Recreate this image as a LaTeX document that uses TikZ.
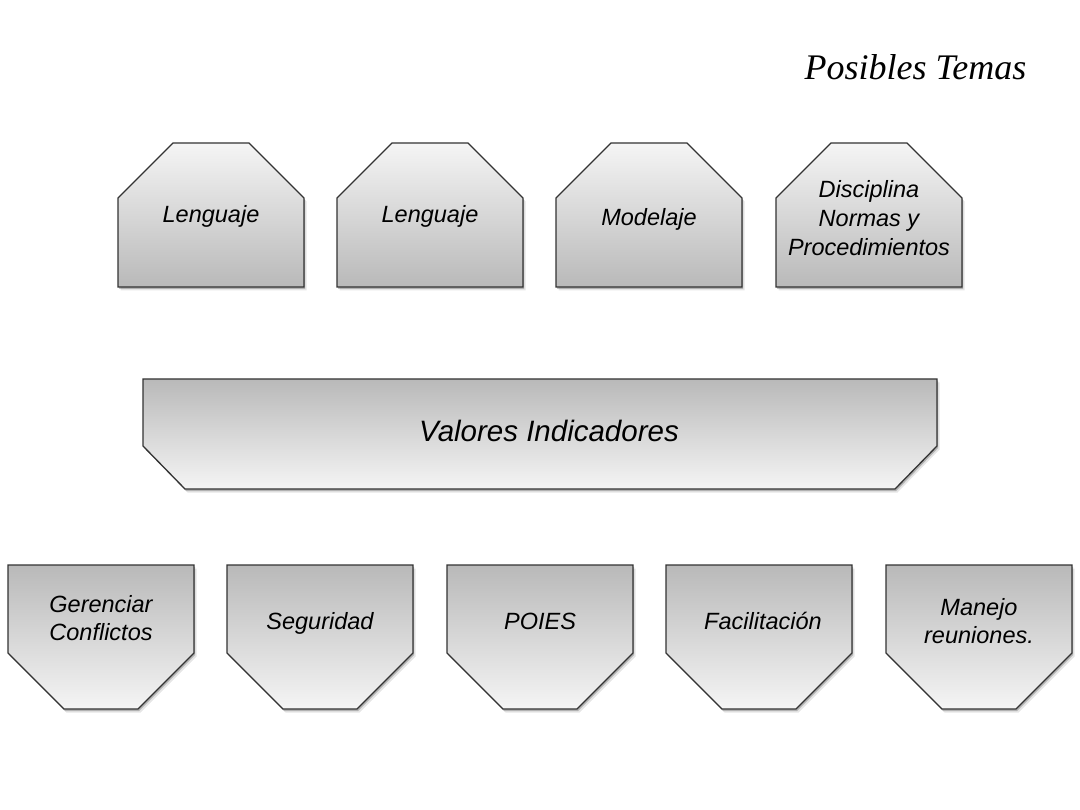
\documentclass[tikz,border=0pt]{standalone}
\usepackage{fontspec}
\setmainfont{Liberation Sans}
\newfontfamily\titlefont{Liberation Serif}
\usetikzlibrary{shadows}
\begin{document}
\begin{tikzpicture}[x=1pt,y=-1pt,
  boxline/.style={draw=black!80, line width=1.3pt, line join=miter},
  shadowed/.style={drop shadow={shadow xshift=2.5pt, shadow yshift=-3.5pt, opacity=0.1, fill=black},
                   drop shadow={shadow xshift=1.2pt, shadow yshift=-2pt, opacity=0.22, fill=black}},
  topbox/.style={boxline, shadowed, top color=gray!8, bottom color=gray!55},
  botbox/.style={boxline, shadowed, top color=gray!55, bottom color=gray!8},
  label/.style={font=\itshape\fontsize{23.5}{29}\selectfont, align=center, text=black, anchor=base},
  biglabel/.style={font=\itshape\fontsize{29.5}{34}\selectfont, align=center, text=black, anchor=base},
  titlelabel/.style={font=\titlefont\itshape\fontsize{36}{40}\selectfont, text=black, anchor=base}]
\useasboundingbox[fill=white] (0,0) rectangle (1080,810);

% title
\node[titlelabel] (title) at (915.5,80) {Posibles Temas};

% top row
\foreach \x in {118,337,556,776}{
  \path[topbox] (\x,198) -- (\x+55,143) -- (\x+131,143) -- (\x+186,198) -- (\x+186,287) -- (\x,287) -- cycle;
}
\node[label] (t1) at (211,223) {Lenguaje};
\node[label] (t2) at (430,223) {Lenguaje};
\node[label] (t3) at (649,226) {Modelaje};
\node[label] (t4a) at (869,198) {Disciplina};
\node[label] (t4b) at (869,227) {Normas y};
\node[label] (t4c) at (869,256) {Procedimientos};

% middle
\path[botbox] (143,379) -- (937,379) -- (937,446) -- (895,489) -- (185,489) -- (143,446) -- cycle;
\node[biglabel] (valores) at (549,442) {Valores Indicadores};

% bottom row
\foreach \x in {8,227,447,666,886}{
  \path[botbox] (\x,565) -- (\x+186,565) -- (\x+186,653) -- (\x+130,709) -- (\x+56,709) -- (\x,653) -- cycle;
}
\node[label] (b1a) at (101,612) {Gerenciar};
\node[label] (b1b) at (101,640) {Conflictos};
\node[label] (b2) at (320,629) {Seguridad};
\node[label] (b3) at (540,629) {POIES};
\node[label] (b4) at (763,629) {Facilitación};
\node[label] (b5a) at (979,615) {Manejo};
\node[label] (b5b) at (979,643) {reuniones.};
\end{tikzpicture}
\end{document}
